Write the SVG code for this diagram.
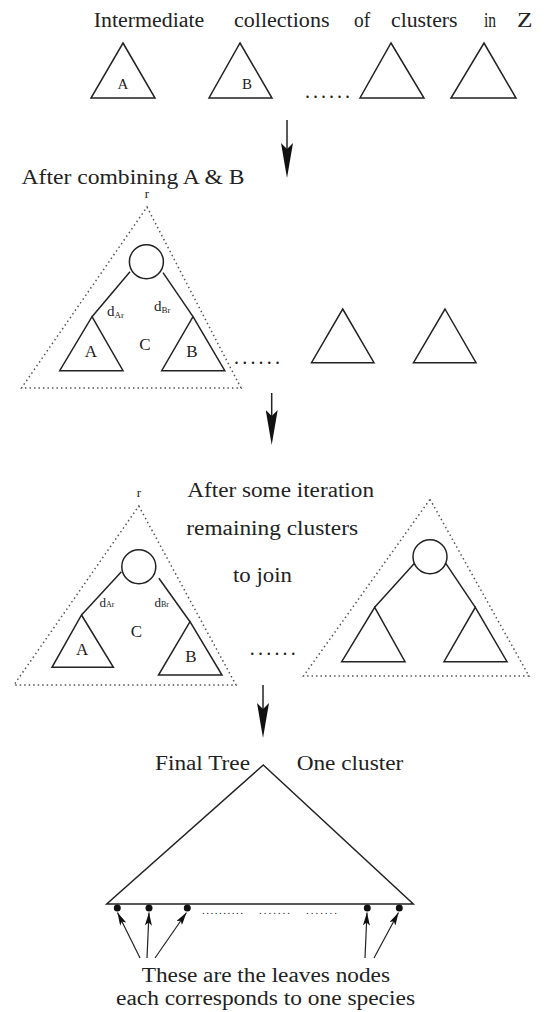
<svg xmlns="http://www.w3.org/2000/svg" width="544" height="1012" viewBox="0 0 544 1012">
<defs>
<style>
text{font-family:"Liberation Serif","Times New Roman",serif;fill:#222}
.t{font-size:20px}
.s{font-size:16px}
.tri{fill:none;stroke:#222;stroke-width:1.5;stroke-linejoin:miter}
.dt{fill:none;stroke:#555;stroke-width:1.5;stroke-dasharray:1.5 3}
.edge{fill:none;stroke:#222;stroke-width:1.5}
.leaf{fill:#111}
.arr{fill:none;stroke:#222;stroke-width:1.5}
.arrs{fill:none;stroke:#222;stroke-width:1.2}
</style>
<marker id="big" markerUnits="userSpaceOnUse" markerWidth="36" markerHeight="12" refX="15" refY="6" orient="auto">
<path d="M0,0 L35,6 L0,12 L6,6 Z" fill="#111"/>
</marker>
<marker id="small" markerUnits="userSpaceOnUse" markerWidth="13" markerHeight="7" refX="13" refY="3.5" orient="auto">
<path d="M0,0 L13,3.5 L0,7 L3,3.5 Z" fill="#111"/>
</marker>
</defs>
<rect width="544" height="1012" fill="#fff"/>

<g id="title">
<text class="t" y="26.7"><tspan x="93.7" textLength="116" lengthAdjust="spacingAndGlyphs">Intermediate </tspan><tspan x="234" textLength="101" lengthAdjust="spacingAndGlyphs">collections </tspan><tspan x="354" textLength="21" lengthAdjust="spacingAndGlyphs">of </tspan><tspan x="391" textLength="72" lengthAdjust="spacingAndGlyphs">clusters </tspan><tspan x="484" textLength="16" lengthAdjust="spacingAndGlyphs">in </tspan><tspan x="517" textLength="15.5" lengthAdjust="spacingAndGlyphs">Z</tspan></text>
</g>

<g id="row1-A">
<polygon class="tri" points="123,43 155,98 91,98"/>
<text x="123" y="89" font-size="15" text-anchor="middle">A</text>
</g>
<g id="row1-B">
<polygon class="tri" points="240,43 272,98 209,98"/>
<text x="247" y="89" font-size="15" text-anchor="middle">B</text>
</g>
<g id="row1-dots">
<text class="t" x="305" y="98" textLength="45" lengthAdjust="spacing">......</text>
</g>
<g id="row1-T3">
<polygon class="tri" points="391,43 424,98 360,98"/>
</g>
<g id="row1-T4">
<polygon class="tri" points="484,43 516,98 451,98"/>
</g>

<g id="row2-label">
<text class="t" x="21.5" y="184" textLength="223" lengthAdjust="spacingAndGlyphs">After combining A &amp; B</text>
</g>
<g id="row2-C">
<text x="147" y="198" font-size="13" text-anchor="middle">r</text>
<polygon class="dt" points="147,207 241,388 21.5,388"/>
<circle class="edge" cx="146.4" cy="261.7" r="17"/>
<line class="edge" x1="130" y1="271.7" x2="92" y2="316.7"/>
<line class="edge" x1="163" y1="272.7" x2="193" y2="316.7"/>
<polygon class="tri" points="92,316.7 123,370.7 59.7,370.7"/>
<polygon class="tri" points="193,316.7 224.8,370.7 161.7,370.7"/>
<text x="107" y="316" font-size="15">d<tspan font-size="9" dy="2">Ar</tspan></text>
<text x="154" y="311" font-size="15">d<tspan font-size="9" dy="2">Br</tspan></text>
<text x="145" y="350" font-size="17" text-anchor="middle">C</text>
<text x="91" y="356.7" font-size="17" text-anchor="middle">A</text>
<text x="192" y="356.7" font-size="17" text-anchor="middle">B</text>
</g>
<g id="row2-dots">
<text class="t" x="234" y="363.5" textLength="46" lengthAdjust="spacing">......</text>
</g>
<g id="row2-T3">
<polygon class="tri" points="342.7,309 374,362.7 311.5,362.7"/>
</g>
<g id="row2-T4">
<polygon class="tri" points="445,309 476,362.7 413.5,362.7"/>
</g>

<g id="row3-label">
<text class="t" x="187.3" y="496.7" textLength="186.7" lengthAdjust="spacingAndGlyphs">After some iteration</text>
<text class="t" x="186.3" y="535" textLength="171.7" lengthAdjust="spacingAndGlyphs">remaining clusters</text>
<text class="t" x="233" y="581.7" textLength="59" lengthAdjust="spacingAndGlyphs">to join</text>
</g>
<g id="row3-C">
<text x="138.8" y="496.7" font-size="13" text-anchor="middle">r</text>
<polygon class="dt" points="138.8,506 236,685 13.9,685"/>
<circle class="edge" cx="138.8" cy="566.7" r="17"/>
<line class="edge" x1="121.4" y1="571.7" x2="81.5" y2="615"/>
<line class="edge" x1="158.9" y1="578.3" x2="190" y2="621.7"/>
<polygon class="tri" points="81.5,615 113.4,667.3 52,667.3"/>
<polygon class="tri" points="190,621.7 222,675 158.5,675"/>
<text x="99.6" y="606.7" font-size="13">d<tspan font-size="8">Ar</tspan></text>
<text x="154.4" y="606.7" font-size="13">d<tspan font-size="8">Br</tspan></text>
<text x="136.3" y="636.7" font-size="17" text-anchor="middle">C</text>
<text x="82.2" y="655" font-size="17" text-anchor="middle">A</text>
<text x="190.8" y="661.7" font-size="17" text-anchor="middle">B</text>
</g>
<g id="row3-dots">
<text class="t" x="249.8" y="655" textLength="46" lengthAdjust="spacing">......</text>
</g>
<g id="row3-D">
<polygon class="dt" points="430,499.3 529,676 303.5,676"/>
<circle class="edge" cx="430" cy="556.7" r="17"/>
<line class="edge" x1="414.5" y1="563.3" x2="374.7" y2="607.3"/>
<line class="edge" x1="445.8" y1="563.3" x2="475.3" y2="607.3"/>
<polygon class="tri" points="374.7,607.3 405,661.7 341.7,661.7"/>
<polygon class="tri" points="475.3,607.3 507,661.7 444,661.7"/>
</g>

<g id="final-tree">
<text class="t" x="155" y="770" textLength="95" lengthAdjust="spacingAndGlyphs">Final Tree</text>
<text class="t" x="296.7" y="770" textLength="106.6" lengthAdjust="spacingAndGlyphs">One cluster</text>
<polygon class="tri" points="263.3,765 413.3,904 106.7,904"/>
<circle class="leaf" cx="117.3" cy="908" r="3.5"/>
<circle class="leaf" cx="149" cy="908" r="3.5"/>
<circle class="leaf" cx="187.3" cy="908" r="3.5"/>
<circle class="leaf" cx="367.3" cy="908" r="3.5"/>
<circle class="leaf" cx="399.3" cy="908" r="3.5"/>
<text x="202" y="914" font-size="11" textLength="41" lengthAdjust="spacing">..........</text>
<text x="259" y="914" font-size="11" textLength="31" lengthAdjust="spacing">.......</text>
<text x="306" y="914" font-size="11" textLength="31" lengthAdjust="spacing">.......</text>
</g>
<g id="leaves-note">
<text class="t" x="141.7" y="982" textLength="248.3" lengthAdjust="spacingAndGlyphs">These are the leaves nodes</text>
<text class="t" x="116" y="1005" textLength="299" lengthAdjust="spacingAndGlyphs">each corresponds to one species</text>
</g>

<g id="connectors">
<line class="arr" x1="287" y1="120" x2="287" y2="158" marker-end="url(#big)"/>
<line class="arr" x1="271.7" y1="393" x2="271.7" y2="425" marker-end="url(#big)"/>
<line class="arr" x1="263" y1="685" x2="263" y2="718" marker-end="url(#big)"/>
<line class="arrs" x1="140" y1="958" x2="117.5" y2="912.5" marker-end="url(#small)"/>
<line class="arrs" x1="147" y1="958" x2="149" y2="912.5" marker-end="url(#small)"/>
<line class="arrs" x1="155" y1="958" x2="186.5" y2="912.5" marker-end="url(#small)"/>
<line class="arrs" x1="365" y1="958" x2="367" y2="912.5" marker-end="url(#small)"/>
<line class="arrs" x1="374" y1="958" x2="398.5" y2="912.5" marker-end="url(#small)"/>
</g>
</svg>
